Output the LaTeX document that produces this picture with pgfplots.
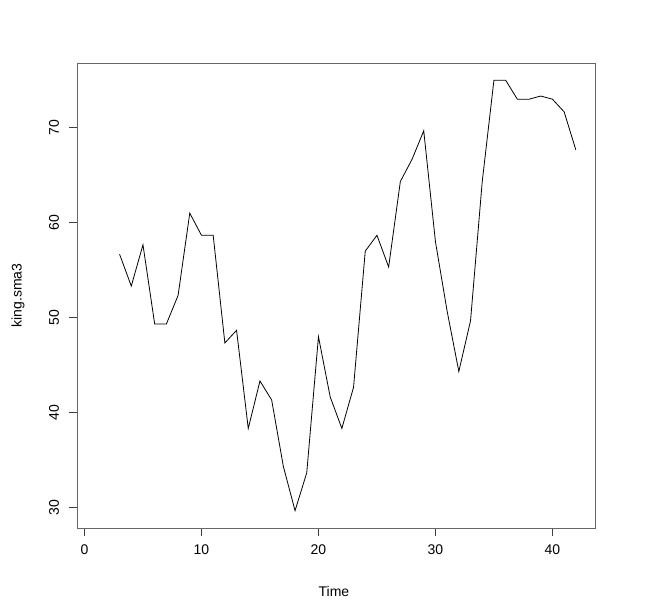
\documentclass[border=0pt]{standalone}
\usepackage{pgfplots}
\pgfplotsset{compat=1.18}
\usepackage{fontspec}
\setmainfont{Liberation Sans}
\begin{document}
\begin{tikzpicture}
\useasboundingbox (0pt,0pt) rectangle (503.25pt,457.5pt);
\begin{axis}[
  at={(57.75pt,61.5pt)}, anchor=south west,
  scale only axis,
  width=388.5pt, height=348.75pt,
  xmin=-0.64, xmax=43.64,
  ymin=27.85, ymax=76.81,
  xtick={0,10,20,30,40},
  ytick={30,40,50,60,70},
  tick align=outside,
  major tick length=6pt,
  tick style={black!75, line width=0.6pt},
  axis line style={black!60, line width=0.7pt},
  xtick pos=bottom, ytick pos=left,
  font=\fontsize{10.5}{12}\selectfont,
  xticklabel style={yshift=-3pt},
  yticklabel style={rotate=90, anchor=south, yshift=4pt},
  /pgf/number format/assume math mode=true,
  xlabel={Time}, ylabel={king.sma3},
  xlabel style={at={(axis description cs:0.496,-0.136)}, anchor=center},
  ylabel style={at={(axis description cs:-0.114,0.5)}, anchor=center},
]
\addplot[black, line width=0.6pt] coordinates {
(3,56.67)(4,53.33)(5,57.67)(6,49.33)(7,49.33)(8,52.33)(9,61)(10,58.67)
(11,58.67)(12,47.33)(13,48.67)(14,38.33)(15,43.33)(16,41.33)(17,34.33)
(18,29.67)(19,33.67)(20,48)(21,41.67)(22,38.33)(23,42.67)(24,57)
(25,58.67)(26,55.33)(27,64.33)(28,66.67)(29,69.67)(30,58)(31,50.67)
(32,44.33)(33,49.67)(34,64.33)(35,75)(36,75)(37,73)(38,73)(39,73.33)
(40,73)(41,71.67)(42,67.67)};
\end{axis}
\end{tikzpicture}
\end{document}
